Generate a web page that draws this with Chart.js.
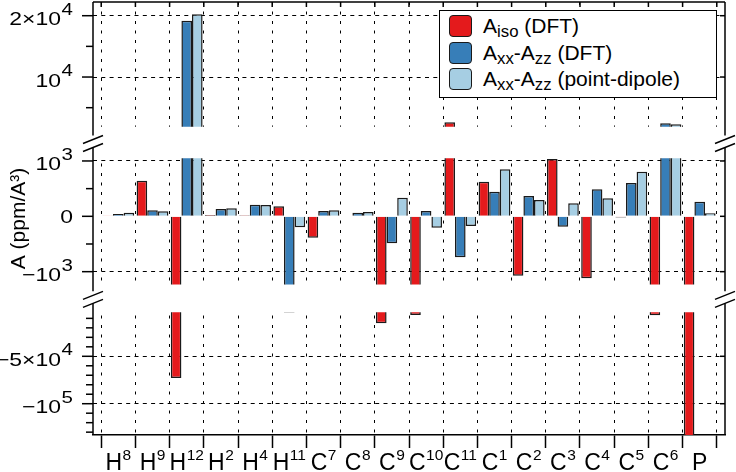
<!DOCTYPE html>
<html>
<head>
  <title>Hyperfine couplings</title>
  <script src="https://cdn.jsdelivr.net/npm/chart.js"></script>
  <style>
    body { margin: 0; background: #fff; font-family: 'Liberation Sans', Arial, sans-serif; }
    #wrap { position: relative; width: 736px; height: 472px; }
    #legend { position: absolute; left: 439px; top: 10px; width: 278px; height: 88px; box-sizing: border-box;
              border: 1.5px solid #000; background: #fff; }
    .row { position: absolute; left: 9px; height: 22px; font-size: 21px; line-height: 22px; white-space: nowrap; color: #000; }
    .sw { display: inline-block; width: 23px; height: 22px; box-sizing: border-box; border: 1.5px solid #1a1a1a;
          border-radius: 4px; vertical-align: top; margin-right: 11px; }
    sub { font-size: 0.8em; vertical-align: -4px; line-height: 0; }
  </style>
</head>
<body>
  <div id="wrap">
    <canvas id="chart" width="736" height="472"></canvas>
    <div id="legend"></div>
  </div>
  <script>
    const labels = ['H⁸', 'H⁹', 'H¹²', 'H²', 'H⁴', 'H¹¹', 'C⁷', 'C⁸', 'C⁹', 'C¹⁰', 'C¹¹', 'C¹', 'C²', 'C³', 'C⁴', 'C⁵', 'C⁶', 'P'];
    const aIsoDft      = [5, 644, -72900, 25, 20, 180, -387, 10, -15200, -6400, 2610, 626, -1074, 1036, -1121, -20, -6700, -140000];
    const aAnisoDft    = [40, 108, 19180, 132, 210, -3700, 96, 65, -488, 96, -741, 445, 367, -188, 488, 602, 2450, 264];
    const aAnisoDipole = [65, 90, 20230, 145, 205, -199, 108, 78, 337, -206, -175, 850, 295, 235, 325, 807, 2280, 54];

    const seriesNames = ['A<sub>iso</sub> (DFT)', 'A<sub>xx</sub>-A<sub>zz</sub> (DFT)', 'A<sub>xx</sub>-A<sub>zz</sub> (point-dipole)'];
    const colors = ['#e41a1c', '#377eb8', '#a6cee3'];

    const majorTicks = [20000, 10000, 1000, 0, -1000, -50000, -100000];
    const majorLabels = ['2×10⁴', '10⁴', '10³', '0', '−10³', '−5×10⁴', '−10⁵'];
    const minorTicks = [15000, 5000, 500, -500, -10000, -20000, -30000, -40000, -60000, -70000, -80000, -90000, -110000, -120000, -130000];

    // broken y axis: value range of each panel and its pixel band (px from top of plot, plot is 433 high)
    const PLOT_H = 433;
    const panels = [
      { max: 22235, min: 1900, top: 0, bottom: 124.7 },
      { max: 1050, min: -1230, top: 156.2, bottom: 282.4 },
      { max: -3600, min: -133000, top: 310.3, bottom: 433 }
    ];
    const xPad = 0.24; // empty space at both ends of the x axis, in categories
    const FONT = "'Liberation Sans', Arial, sans-serif";
    const SUP = '⁰¹²³⁴⁵⁶⁷⁸⁹';

    class BrokenScale extends Chart.LinearScale {
      static id = 'broken';
      buildTicks() {
        return majorTicks.concat(minorTicks).sort((a, b) => a - b).map(v => ({ value: v }));
      }
      anchors() {
        const k = (this.bottom - this.top) / PLOT_H;
        const pts = [];
        panels.forEach(p => {
          pts.push([p.max, this.top + p.top * k]);
          pts.push([p.min, this.top + p.bottom * k]);
        });
        return pts;
      }
      getPixelForValue(v) {
        const pts = this.anchors();
        let i = 0;
        while (i < pts.length - 2 && v < pts[i + 1][0]) i++;
        const [v0, p0] = pts[i], [v1, p1] = pts[i + 1];
        return p0 + (v - v0) * (p1 - p0) / (v1 - v0);
      }
      getValueForPixel(px) {
        const pts = this.anchors();
        let i = 0;
        while (i < pts.length - 2 && px > pts[i + 1][1]) i++;
        const [v0, p0] = pts[i], [v1, p1] = pts[i + 1];
        return v0 + (px - p0) * (v1 - v0) / (p1 - p0);
      }
    }
    Chart.register(BrokenScale);

    function bands(chart) {
      const y = chart.scales.y;
      return panels.map(p => [y.getPixelForValue(p.max), y.getPixelForValue(p.min)]);
    }

    function line(ctx, x1, y1, x2, y2) {
      ctx.beginPath();
      ctx.moveTo(x1, y1);
      ctx.lineTo(x2, y2);
      ctx.stroke();
    }

    // split 'C¹⁰' into ['C', '10']
    function splitSup(s) {
      let i = 0;
      while (i < s.length && SUP.indexOf(s[i]) < 0) i++;
      return [s.slice(0, i), s.slice(i).split('').map(c => SUP.indexOf(c)).join('')];
    }

    // text with a raised exponent; align 'center' or 'right'
    function supText(ctx, s, x, y, o) {
      const [base, sup] = splitSup(s);
      ctx.font = o.size + 'px ' + FONT;
      const wb = ctx.measureText(base).width;
      ctx.font = o.supSize + 'px ' + FONT;
      const ws = sup ? ctx.measureText(sup).width + o.gap : 0;
      const w = (wb + ws) * o.sx;
      const x0 = o.align === 'right' ? x - w : x - w / 2;
      ctx.save();
      ctx.translate(x0, y);
      ctx.scale(o.sx, 1);
      ctx.fillStyle = '#000';
      ctx.textAlign = 'left';
      ctx.textBaseline = 'alphabetic';
      ctx.font = o.size + 'px ' + FONT;
      ctx.fillText(base, 0, 0);
      if (sup) {
        ctx.font = o.supSize + 'px ' + FONT;
        ctx.fillText(sup, wb + o.gap, -o.rise);
      }
      ctx.restore();
    }

    const brokenAxis = {
      id: 'brokenAxis',
      beforeDatasetsDraw(chart) {
        const { ctx, chartArea: a } = chart;
        const b = bands(chart);
        // blank the gaps between panels
        ctx.save();
        ctx.fillStyle = '#fff';
        for (let i = 0; i < b.length - 1; i++) {
          ctx.fillRect(a.left + 1, b[i][1], a.right - a.left - 2, b[i + 1][0] - b[i][1]);
        }
        ctx.restore();
        // bars only inside the panels
        ctx.save();
        ctx.beginPath();
        b.forEach(r => ctx.rect(a.left, r[0], a.right - a.left, r[1] - r[0]));
        ctx.clip();
      },
      afterDatasetsDraw(chart) {
        chart.ctx.restore();
      },
      afterDraw(chart) {
        const { ctx, chartArea: a, scales: { x, y } } = chart;
        const b = bands(chart);
        const breaks = [];
        for (let i = 0; i < b.length - 1; i++) breaks.push((b[i][1] + b[i + 1][0]) / 2 + 1);
        ctx.save();
        ctx.strokeStyle = '#000';
        ctx.lineWidth = 1.5;
        [a.left, a.right].forEach(px => {
          let from = a.top;
          breaks.forEach(c => { line(ctx, px, from, px, c - 8); from = c + 4; });
          line(ctx, px, from, px, a.bottom);
          breaks.forEach(c => {
            line(ctx, px - 10, c, px + 10, c - 8);
            line(ctx, px - 10, c + 8, px + 10, c);
          });
        });
        line(ctx, a.left, a.top, a.right, a.top);
        for (let i = 0; i <= labels.length; i++) {
          const px = x.getPixelForValue(i - 0.5);
          line(ctx, px, a.top, px, a.top + 5);
        }
        y.ticks.forEach(t => {
          const py = y.getPixelForValue(t.value);
          const k = majorTicks.indexOf(t.value);
          line(ctx, a.left - (k >= 0 ? 11 : 7), py, a.left, py);
          if (k < 0) return;
          line(ctx, a.right - 5, py, a.right, py);
          const hasSup = splitSup(majorLabels[k])[1] !== '';
          supText(ctx, majorLabels[k], a.left - 20, py + (hasSup ? 9.5 : 6.5), { size: 18.5, supSize: 16.5, rise: 10.5, gap: 0.5, sx: 1.24, align: 'right' });
        });
        labels.forEach((l, i) => {
          supText(ctx, l, x.getPixelForValue(i), a.bottom + 35, { size: 23, supSize: 15.5, rise: 10, gap: 0.5, sx: 1, align: 'center' });
        });
        ctx.restore();
      }
    };

    Chart.defaults.font.family = FONT;
    Chart.defaults.color = '#000';

    new Chart(document.getElementById('chart'), {
      type: 'bar',
      data: {
        labels,
        datasets: [aIsoDft, aAnisoDft, aAnisoDipole].map((d, i) => ({
          label: seriesNames[i].replace(/<[^>]+>/g, ''),
          data: d,
          backgroundColor: colors[i],
          borderColor: '#1a1a1a',
          borderWidth: 1.5,
          categoryPercentage: 0.93,
          barPercentage: 1
        }))
      },
      options: {
        responsive: false,
        animation: false,
        devicePixelRatio: 1,
        layout: { padding: { top: 2, right: 11, left: 0, bottom: 0 } },
        plugins: { legend: { display: false }, tooltip: { enabled: false } },
        scales: {
          x: {
            type: 'category',
            offset: true,
            afterBuildTicks: s => {
              s._startValue = -0.5 - xPad;
              s._valueRange = labels.length + 2 * xPad;
            },
            afterFit: s => { s.height = 37; s.paddingLeft = 0; s.paddingRight = 0; },
            grid: { offset: true, color: '#000', lineWidth: 1, tickLength: 13, tickWidth: 1.5, tickColor: '#000' },
            border: { color: '#000', width: 1.5, dash: [3, 6.5] },
            ticks: { font: { size: 22 }, padding: 1, maxRotation: 0, autoSkip: false, callback: () => '' }
          },
          y: {
            type: 'broken',
            position: 'left',
            min: -133000,
            max: 22235,
            afterFit: s => { s.width = 93; s.paddingTop = 0; s.paddingBottom = 0; },
            grid: {
              drawTicks: false,
              lineWidth: 1,
              color: c => (c.tick && c.tick.value !== 0 && majorTicks.includes(c.tick.value)) ? '#000' : 'rgba(0,0,0,0)'
            },
            border: { display: false, dash: [4, 4.3] },
            ticks: { font: { size: 20 }, padding: 20, autoSkip: false, callback: () => '' },
            title: { display: true, text: 'A (ppm/A³)', font: { size: 21 }, color: '#000', padding: { top: 7, bottom: 0 } }
          }
        }
      },
      plugins: [brokenAxis]
    });

    const legend = document.getElementById('legend');
    seriesNames.forEach((name, i) => {
      const row = document.createElement('div');
      row.className = 'row';
      row.style.top = (4 + i * 26.7) + 'px';
      row.innerHTML = '<span class="sw" style="background:' + colors[i] + '"></span>' + name;
      legend.appendChild(row);
    });
  </script>
</body>
</html>
